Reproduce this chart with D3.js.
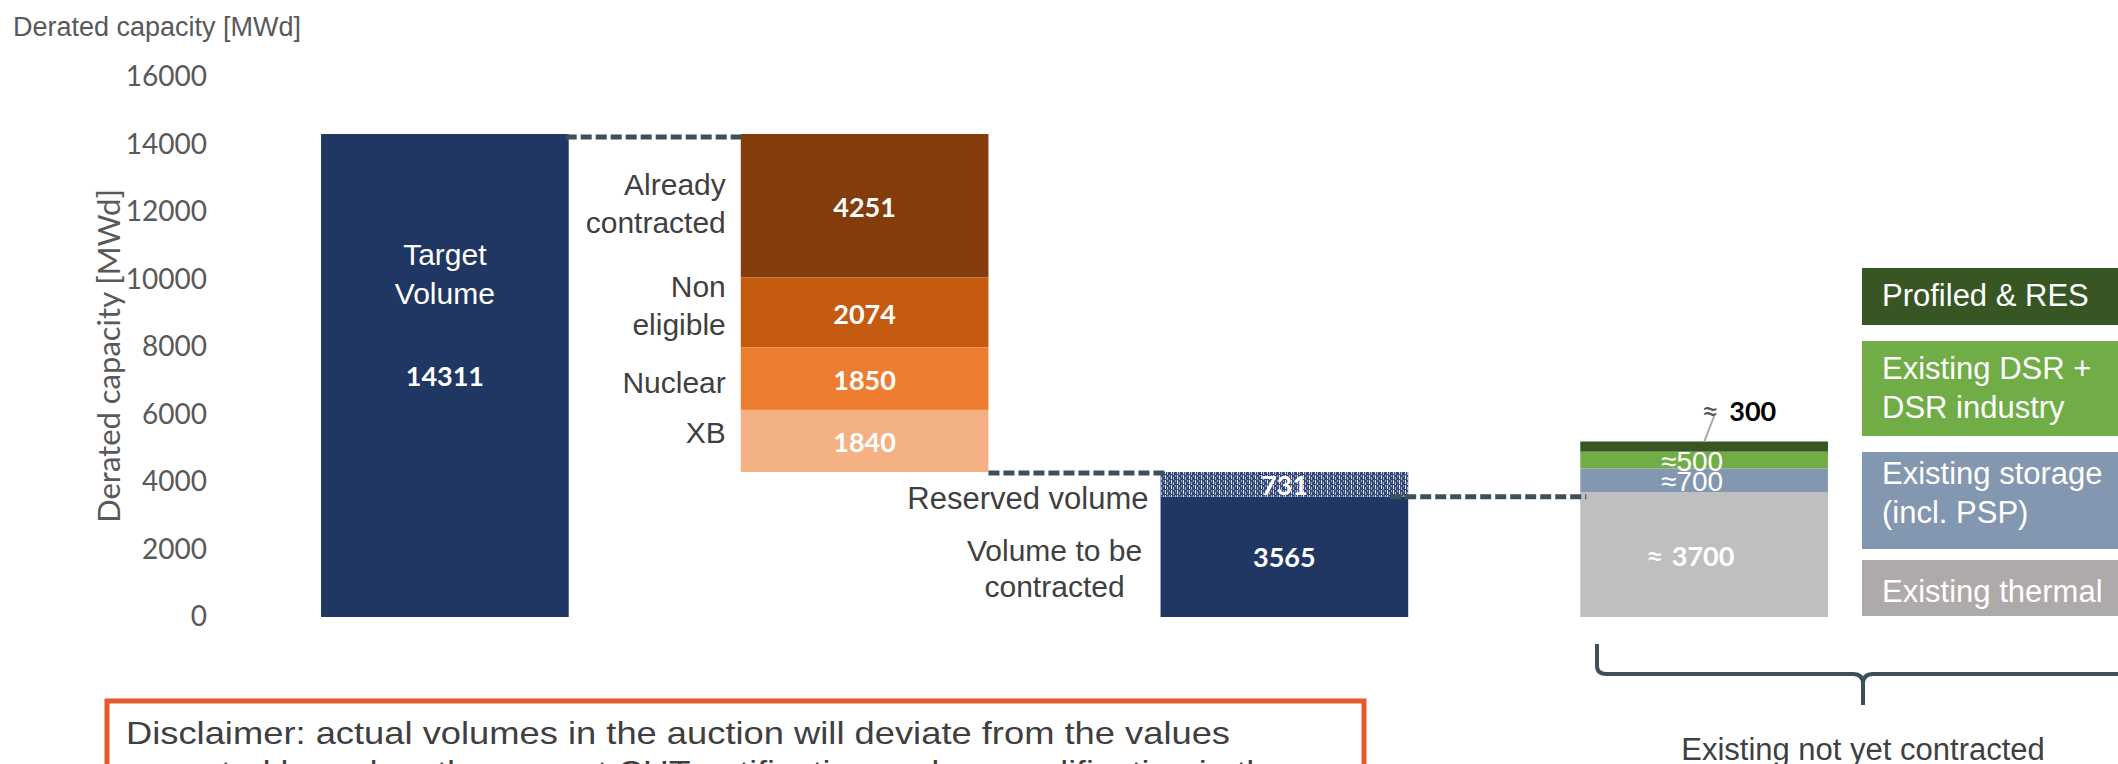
<!DOCTYPE html>
<html>
  <head>
    <meta charset="utf-8">
    <title>Derated capacity</title>
    <script src="https://d3js.org/d3.v7.min.js"></script>
    <style>
      body { margin: 0; background: #ffffff; }
    </style>
  </head>

  <body>
    <svg id="canvas" width="2118" height="764"></svg>

    <script>

      // ---- data ----
      var columns = ["target", "deductions", "auction", "existing"];
      var yTicks = [0, 2000, 4000, 6000, 8000, 10000, 12000, 14000, 16000];

      var targetValue = [14311];

      var deductionLabels = [["Already", "contracted"], ["Non", "eligible"], ["Nuclear"], ["XB"]];
      var deductionValues = [4251, 2074, 1850, 1840];

      var auctionLabels = [["Volume to be", "contracted"], ["Reserved volume"]];
      var auctionValues = [3565, 731];

      var existingValues = [3700, 700, 500, 300];
      var existingValueText = ["3700", "700", "500", "300"];
      var legendLabels = [["Profiled & RES"], ["Existing DSR +", "DSR industry"], ["Existing storage", "(incl. PSP)"], ["Existing thermal"]];

      // ---- styles ----
      var NAVY = "#213763";
      var orangeColors = ["#843c0c", "#c55a11", "#ed7d31", "#f4b183"];
      var existingColors = ["#bfbfbf", "#8497b0", "#70ad47", "#375623"];
      var legendColors = ["#375623", "#70ad47", "#8497b0", "#aeaaaa"];
      var DASH = "#3d4f58";
      var LABEL = "#3f3f3f";
      var ARIAL = "'Liberation Sans', Arial, sans-serif";
      var CALIBRI = "Lato, 'Open Sans', sans-serif";
      var APPROX = "\u2248";

      var svg = d3.select("#canvas");

      var y = d3.scaleLinear().domain([0, 16000]).range([617, 77]);
      var x = d3.scaleBand().domain(columns).range([235, 1914]).paddingInner(0.41).paddingOuter(0.205);
      var bw = x.bandwidth();

      // hatch pattern for reserved volume
      var pat = svg.append("defs").append("pattern")
        .attr("id", "hatch")
        .attr("width", 6).attr("height", 5)
        .attr("patternUnits", "userSpaceOnUse");
      pat.append("rect").attr("width", 6).attr("height", 5).attr("fill", "#33497a");
      pat.append("rect").attr("x", 1).attr("y", 0).attr("width", 1).attr("height", 4).attr("fill", "#ffffff").attr("opacity", 0.85);
      pat.append("rect").attr("x", 3).attr("y", 2).attr("width", 1).attr("height", 3).attr("fill", "#ffffff").attr("opacity", 0.6);
      pat.append("rect").attr("x", 5).attr("y", 0).attr("width", 1).attr("height", 2).attr("fill", "#ffffff").attr("opacity", 0.5);

      // top-left title
      svg.append("text")
        .attr("x", 13).attr("y", 27)
        .attr("dominant-baseline", "central")
        .style("font-family", ARIAL).style("font-size", "27px").style("fill", "#595959")
        .text("Derated capacity [MWd]");

      // y axis (labels only)
      var axis = svg.append("g")
        .attr("transform", "translate(207,0)")
        .call(d3.axisLeft(y).tickValues(yTicks).tickSize(0).tickPadding(0).tickFormat(d3.format("d")));
      axis.select(".domain").remove();
      axis.selectAll("text")
        .style("font-family", CALIBRI).style("font-size", "28px").style("fill", "#595959");

      svg.append("text")
        .attr("transform", "translate(108,356) rotate(-90)")
        .attr("text-anchor", "middle")
        .attr("dominant-baseline", "central")
        .style("font-family", CALIBRI).style("font-size", "31px").style("fill", "#595959")
        .text("Derated capacity [MWd]");

      // ---- target bar ----
      svg.selectAll(".target")
        .data(targetValue)
        .enter()
        .append("rect")
        .attr("x", x("target"))
        .attr("y", function(d){ return y(d); })
        .attr("width", bw)
        .attr("height", function(d){ return y(0) - y(d); })
        .style("fill", NAVY);

      svg.selectAll(".targetName")
        .data(["Target", "Volume"])
        .enter()
        .append("text")
        .attr("x", x("target") + bw / 2)
        .attr("y", function(d, i){ return y(targetValue[0]) + 120 + i * 39; })
        .attr("text-anchor", "middle")
        .attr("dominant-baseline", "central")
        .style("font-family", ARIAL).style("font-size", "30px").style("fill", "#ffffff")
        .text(function(d){ return d; });

      svg.append("text")
        .attr("x", x("target") + bw / 2)
        .attr("y", (y(targetValue[0]) + y(0)) / 2)
        .attr("text-anchor", "middle")
        .attr("dominant-baseline", "central")
        .style("font-family", CALIBRI).style("font-weight", "700").style("font-size", "27px").style("fill", "#ffffff")
        .text(targetValue[0]);

      // ---- deductions (waterfall, from the top down) ----
      var deductions = [];
      var level = targetValue[0];
      deductionValues.forEach(function(v, i){
        deductions.push({ y0: level - v, y1: level, value: v, label: deductionLabels[i], color: orangeColors[i] });
        level = level - v;
      });
      var remaining = level;

      svg.selectAll(".ded")
        .data(deductions)
        .enter()
        .append("rect")
        .attr("x", x("deductions"))
        .attr("y", function(d){ return y(d.y1); })
        .attr("width", bw)
        .attr("height", function(d){ return y(d.y0) - y(d.y1); })
        .style("fill", function(d){ return d.color; });

      svg.selectAll(".dedValue")
        .data(deductions)
        .enter()
        .append("text")
        .attr("x", x("deductions") + bw / 2)
        .attr("y", function(d){ return (y(d.y0) + y(d.y1)) / 2 + 1; })
        .attr("text-anchor", "middle")
        .attr("dominant-baseline", "central")
        .style("font-family", CALIBRI).style("font-weight", "700").style("font-size", "27px").style("fill", "#ffffff")
        .text(function(d){ return d.value; });

      var dedOffsets = [-2, -7, 4, -8];
      deductions.forEach(function(d, i){
        var cy = (y(d.y0) + y(d.y1)) / 2 + dedOffsets[i];
        var n = d.label.length;
        d.label.forEach(function(line, j){
          svg.append("text")
            .attr("x", x("deductions") - 15)
            .attr("y", cy + (j - (n - 1) / 2) * 38)
            .attr("text-anchor", "end")
            .attr("dominant-baseline", "central")
            .style("font-family", ARIAL).style("font-size", "30px").style("fill", LABEL)
            .text(line);
        });
      });

      // ---- auction column ----
      var auction = [];
      var base = 0;
      auctionValues.forEach(function(v, i){
        auction.push({ y0: base, y1: base + v, value: v, label: auctionLabels[i] });
        base = base + v;
      });

      svg.selectAll(".auc")
        .data(auction)
        .enter()
        .append("rect")
        .attr("x", x("auction"))
        .attr("y", function(d){ return y(d.y1); })
        .attr("width", bw)
        .attr("height", function(d){ return y(d.y0) - y(d.y1); })
        .style("fill", function(d, i){ return i == 0 ? NAVY : "url(#hatch)"; });

      svg.selectAll(".aucValue")
        .data(auction)
        .enter()
        .append("text")
        .attr("x", x("auction") + bw / 2)
        .attr("y", function(d){ return (y(d.y0) + y(d.y1)) / 2; })
        .attr("text-anchor", "middle")
        .attr("dominant-baseline", "central")
        .style("font-family", CALIBRI).style("font-weight", "700").style("font-size", "27px").style("fill", "#ffffff")
        .text(function(d){ return d.value; });

      // "Volume to be contracted" (centred block) and "Reserved volume" (right aligned)
      var a0 = auction[0], a1 = auction[1];
      var vcy = (y(a0.y0) + y(a0.y1)) / 2 + 12;
      a0.label.forEach(function(line, j){
        svg.append("text")
          .attr("x", x("auction") - 106)
          .attr("y", vcy + (j - 0.5) * 36)
          .attr("text-anchor", "middle")
          .attr("dominant-baseline", "central")
          .style("font-family", ARIAL).style("font-size", "30px").style("fill", LABEL)
          .text(line);
      });
      svg.append("text")
        .attr("x", x("auction") - 12)
        .attr("y", (y(a1.y0) + y(a1.y1)) / 2 + 14)
        .attr("text-anchor", "end")
        .attr("dominant-baseline", "central")
        .style("font-family", ARIAL).style("font-size", "31px").style("fill", LABEL)
        .text(a1.label[0]);

      // ---- existing column ----
      var existing = [];
      base = 0;
      existingValues.forEach(function(v, i){
        existing.push({ y0: base, y1: base + v, value: v, text: existingValueText[i], color: existingColors[i] });
        base = base + v;
      });

      svg.selectAll(".ex")
        .data(existing)
        .enter()
        .append("rect")
        .attr("x", x("existing"))
        .attr("y", function(d){ return y(d.y1); })
        .attr("width", bw)
        .attr("height", function(d){ return y(d.y0) - y(d.y1); })
        .style("fill", function(d){ return d.color; });

      var exCx = x("existing") + bw / 2 - 14;
      // thermal
      var t0 = svg.append("text")
        .attr("x", exCx).attr("y", (y(existing[0].y0) + y(existing[0].y1)) / 2)
        .attr("text-anchor", "middle").attr("dominant-baseline", "central")
        .style("font-family", CALIBRI).style("font-weight", "700").style("font-size", "27px").style("fill", "#ffffff");
      t0.append("tspan").style("font-weight", "400").style("font-size", "31px").text(APPROX);
      t0.append("tspan").attr("dx", 8).text(existing[0].text);
      // storage, DSR
      [1, 2].forEach(function(i){
        svg.append("text")
          .attr("x", exCx + 2).attr("y", (y(existing[i].y0) + y(existing[i].y1)) / 2 + 1)
          .attr("text-anchor", "middle").attr("dominant-baseline", "central")
          .style("font-family", ARIAL).style("font-size", "28px").style("fill", "#ffffff")
          .text(APPROX + existing[i].text);
      });
      // profiled: label outside with leader
      var p = existing[3];
      svg.append("line")
        .attr("x1", x("existing") + 124).attr("y1", y(p.y1))
        .attr("x2", x("existing") + 134).attr("y2", y(p.y1) - 26)
        .style("stroke", "#a6a6a6").style("stroke-width", 2);
      var t3 = svg.append("text")
        .attr("x", x("existing") + 121).attr("y", y(p.y1) - 32)
        .attr("dominant-baseline", "central")
        .style("font-family", CALIBRI).style("font-weight", "700").style("font-size", "27px").style("fill", "#000000");
      t3.append("tspan").style("font-weight", "400").style("font-size", "31px").style("fill", "#555555").text(APPROX);
      t3.append("tspan").attr("dx", 10).text(p.text);

      // ---- dashed connectors ----
      var connectors = [
        { x1: x("target") + bw - 3, x2: x("deductions") + 2, v: targetValue[0], dy: 3 },
        { x1: x("deductions") + bw, x2: x("auction") + 6, v: remaining, dy: 1 },
        { x1: x("auction") + bw - 18, x2: x("existing") + 6, v: auctionValues[0], dy: 0 }
      ];
      svg.selectAll(".conn")
        .data(connectors)
        .enter()
        .append("line")
        .attr("x1", function(d){ return d.x1; })
        .attr("x2", function(d){ return d.x2; })
        .attr("y1", function(d){ return y(d.v) + d.dy; })
        .attr("y2", function(d){ return y(d.v) + d.dy; })
        .style("stroke", DASH)
        .style("stroke-width", 5)
        .style("stroke-dasharray", "11 4");

      // ---- legend boxes ----
      var legendBoxes = [{ y: 268, h: 57, t: 27 }, { y: 341, h: 95, t: 27 }, { y: 452, h: 97, t: 21 }, { y: 560, h: 56, t: 31 }];
      legendBoxes.forEach(function(b, i){
        svg.append("rect")
          .attr("x", 1862).attr("y", b.y)
          .attr("width", 270).attr("height", b.h)
          .style("fill", legendColors[i]);
        legendLabels[i].forEach(function(line, j){
          svg.append("text")
            .attr("x", 1882).attr("y", b.y + b.t + j * 39)
            .attr("dominant-baseline", "central")
            .style("font-family", ARIAL).style("font-size", "31px").style("fill", "#ffffff")
            .text(line);
        });
      });

      // ---- bracket ----
      var bx0 = 1597, bxm = 1863, by = 674;
      svg.append("path")
        .attr("d", "M" + bx0 + ",644 L" + bx0 + ",666 Q" + bx0 + "," + by + " " + (bx0 + 10) + "," + by +
                   " L" + (bxm - 10) + "," + by + " Q" + bxm + "," + by + " " + bxm + "," + (by + 10) +
                   " L" + bxm + ",705 M" + bxm + "," + (by + 10) + " Q" + bxm + "," + by + " " + (bxm + 10) + "," + by +
                   " L2130," + by)
        .style("fill", "none")
        .style("stroke", DASH)
        .style("stroke-width", 4);

      svg.append("text")
        .attr("x", bxm).attr("y", 749)
        .attr("text-anchor", "middle").attr("dominant-baseline", "central")
        .style("font-family", ARIAL).style("font-size", "31px").style("fill", LABEL)
        .text("Existing not yet contracted");

      // ---- disclaimer ----
      svg.append("rect")
        .attr("x", 107).attr("y", 701)
        .attr("width", 1257).attr("height", 120)
        .style("fill", "none")
        .style("stroke", "#e55a2b")
        .style("stroke-width", 5);

      svg.selectAll(".disc")
        .data(["Disclaimer: actual volumes in the auction will deviate from the values",
               "expected based on the current CUT notification and prequalification in the"])
        .enter()
        .append("text")
        .attr("x", 126)
        .attr("y", function(d, i){ return 744 + i * 39; })
        .attr("textLength", function(d, i){ return i == 0 ? 1104 : 1160; })
        .attr("lengthAdjust", "spacingAndGlyphs")
        .style("font-family", ARIAL).style("font-size", "32px").style("fill", LABEL)
        .text(function(d){ return d; });

    </script>
  </body>
</html>
